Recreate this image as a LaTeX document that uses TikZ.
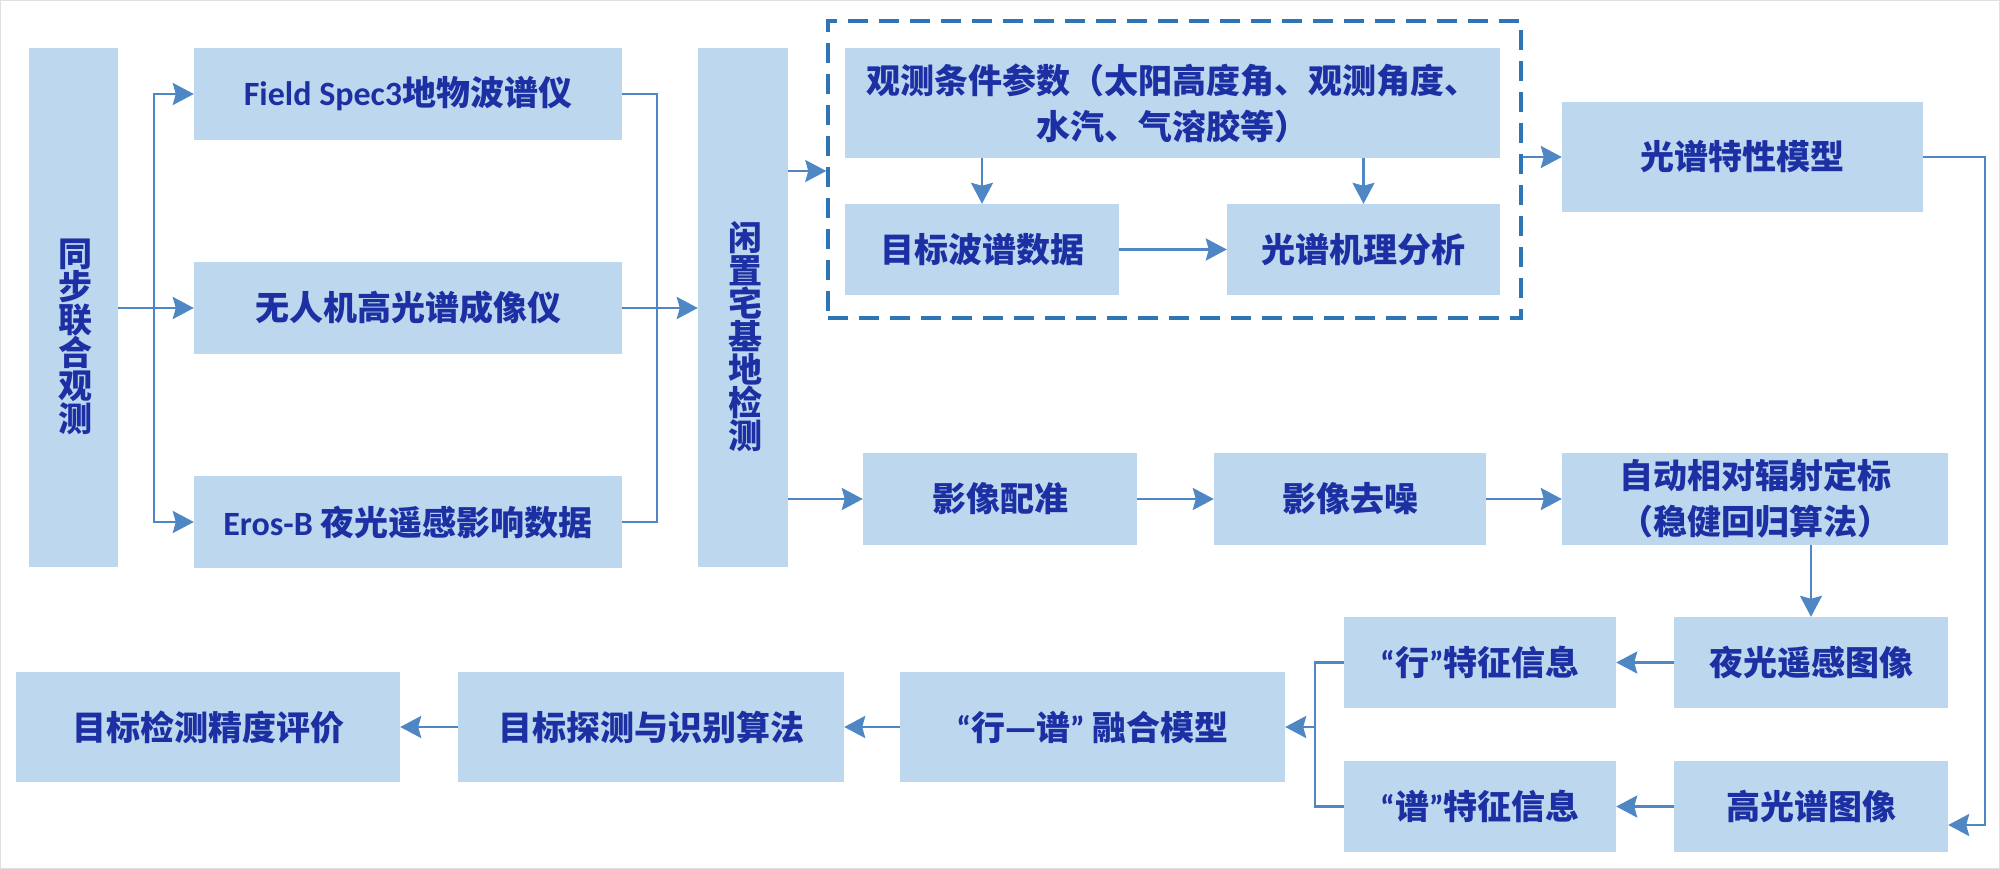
\documentclass[tikz,border=0pt]{standalone}
\usepackage{fontspec}
\setmainfont{Noto Sans CJK SC}
\newfontfamily\lat{Carlito}
\usetikzlibrary{arrows.meta}
\definecolor{boxfill}{HTML}{BDD7EE}
\definecolor{txt}{HTML}{1C30A4}
\definecolor{conn}{HTML}{4F87C5}
\definecolor{dashc}{HTML}{2E75B6}
\begin{document}
\begin{tikzpicture}[x=1pt,y=-1pt,
  bx/.style={fill=boxfill,draw=none,inner sep=0pt,text=txt,align=center,font=\bfseries\fontsize{34}{46}\selectfont},
  vtext/.style={inner sep=0pt,text=txt,align=center,font=\bfseries\fontsize{34}{33}\selectfont},
  cline/.style={draw=conn,line width=2.6pt},
  arr/.style={cline,-{Stealth[length=21pt,width=22pt,inset=3pt]}},
  dashbox/.style={draw=dashc,line width=3.5pt,dash pattern=on 20pt off 11pt,inner sep=0pt,fill=none},
]
\useasboundingbox (0,0) rectangle (2000,869);
\draw[black!12,line width=1pt] (0.5,0.5) rectangle (1999.5,868.5);

% left column
\node[bx,minimum width=89pt,minimum height=519pt] (sync) at (73.5,307.5) {};
\node[vtext] (synct) at (75,337) {同\\步\\联\\合\\观\\测};
\node[bx,minimum width=428pt,minimum height=92pt] (field) at (408,94) {{\lat Field Spec3}地物波谱仪};
\node[bx,minimum width=428pt,minimum height=92pt] (uav) at (408,308) {无人机高光谱成像仪};
\node[bx,minimum width=428pt,minimum height=92pt] (eros) at (408,522) {{\lat Eros-B} 夜光遥感影响数据};
\node[bx,minimum width=90pt,minimum height=519pt] (idle) at (743,307.5) {};
\node[vtext] (idlet) at (745,337) {闲\\置\\宅\\基\\地\\检\\测};

% dashed group
\node[dashbox,minimum width=693pt,minimum height=297pt] (grp) at (1174.5,169.5) {};
\node[bx,minimum width=655pt,minimum height=110pt] (cond) at (1172.5,103) {观测条件参数（太阳高度角、观测角度、\\水汽、气溶胶等）};
\node[bx,minimum width=274pt,minimum height=91pt] (tspec) at (982,249.5) {目标波谱数据};
\node[bx,minimum width=273pt,minimum height=91pt] (mech) at (1363.5,249.5) {光谱机理分析};
\node[bx,minimum width=361pt,minimum height=110pt] (model) at (1742.5,157) {光谱特性模型};

% middle row
\node[bx,minimum width=274pt,minimum height=92pt] (reg) at (1000,499) {影像配准};
\node[bx,minimum width=272pt,minimum height=92pt] (den) at (1350,499) {影像去噪};
\node[bx,minimum width=386pt,minimum height=92pt] (auto) at (1755,499) {自动相对辐射定标\\（稳健回归算法）};

% lower part
\node[bx,minimum width=274pt,minimum height=91pt] (night) at (1811,662.5) {夜光遥感图像};
\node[bx,minimum width=272pt,minimum height=91pt] (xing) at (1480,662.5) {{\lat “}行{\lat ”}特征信息};
\node[bx,minimum width=272pt,minimum height=91pt] (pu) at (1480,806.5) {{\lat “}谱{\lat ”}特征信息};
\node[bx,minimum width=274pt,minimum height=91pt] (hyper) at (1811,806.5) {高光谱图像};
\node[bx,minimum width=385pt,minimum height=110pt] (fuse) at (1092.5,727) {{\lat “}行—谱{\lat ”} 融合模型};
\node[bx,minimum width=386pt,minimum height=110pt] (det) at (651,727) {目标探测与识别算法};
\node[bx,minimum width=384pt,minimum height=110pt] (eval) at (208,727) {目标检测精度评价};

% helper coordinates
\coordinate (lt) at (154,308);
\coordinate (rt) at (657,308);
\coordinate (rc) at (1985,825);
\coordinate (fc) at (1315,727);

% connectors, left
\draw[cline] (sync.east |- uav.west) -- (lt);
\draw[arr] (lt) -- (uav.west);
\draw[arr] (lt) |- (field.west);
\draw[arr] (lt) |- (eros.west);
\draw[cline] (field.east) -| (rt);
\draw[cline] (eros.east) -| (rt);
\draw[arr] (uav.east) -- (uav.east -| idle.west);

% to dashed group and middle row
\draw[arr] (idle.east |- 0,171) -- (grp.west |- 0,171);
\draw[arr] (idle.east |- reg.west) -- (reg.west);
\draw[arr] (reg.east) -- (den.west);
\draw[arr] (den.east) -- (auto.west);

% inside dashed group
\draw[arr,line width=2.2pt] (cond.south -| tspec.north) -- (tspec.north);
\draw[arr,line width=2.2pt] (cond.south -| mech.north) -- (mech.north);
\draw[arr] (tspec.east) -- (mech.west);
\draw[arr] (grp.east |- model.west) -- (model.west);

% right side
\draw[arr,line width=2.2pt] (model.east) -| (rc) -- (rc -| hyper.east);
\draw[arr,line width=2.2pt] (auto.south -| night.north) -- (night.north);
\draw[arr] (night.west) -- (xing.east);
\draw[arr] (hyper.west) -- (pu.east);
\draw[cline,line width=2.2pt] (xing.west) -| (fc) |- (pu.west);
\draw[arr] (fc) -- (fuse.east);
\draw[arr] (fuse.west) -- (det.east);
\draw[arr] (det.west) -- (eval.east);
\end{tikzpicture}
\end{document}
